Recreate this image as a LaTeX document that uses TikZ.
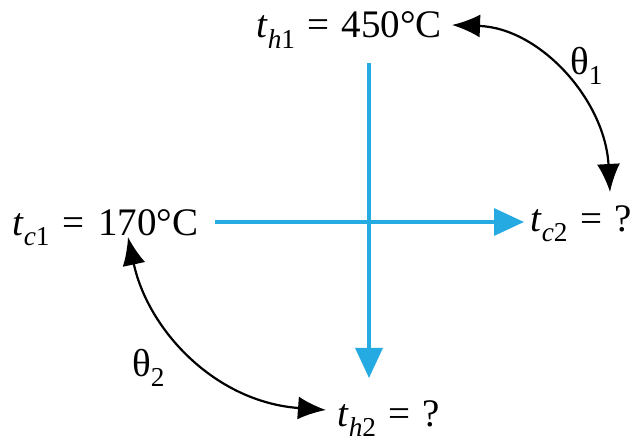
\documentclass[tikz,border=0pt]{standalone}
\usepackage{fontspec}
\setmainfont{Liberation Serif}
\usetikzlibrary{arrows.meta}
\definecolor{flowblue}{RGB}{38,170,226}
\newcommand{\eqsign}{\hspace{12pt}=\hspace{12pt}}
\begin{document}
\begin{tikzpicture}[x=1pt,y=-1pt,
  lbl/.style={inner sep=0pt,anchor=base west,font=\fontsize{39}{44}\selectfont},
  flow/.style={draw=flowblue,line width=3.4pt,-{Triangle[length=30pt,width=27pt]}},
  angarrow/.style={draw=black,line width=2.2pt,{Latex[length=28pt,width=23pt]}-{Latex[length=28pt,width=23pt]}}]
\useasboundingbox (0,0) rectangle (633,441);
\node[lbl] (th1) at (256,38) {\textit{t}\textsubscript{\textit{h}1}\eqsign 450°C};
\node[lbl] (tc1) at (12,236) {\textit{t}\textsubscript{\textit{c}1}\eqsign\hspace{2pt}170°C};
\node[lbl] (tc2) at (530,232) {\textit{t}\textsubscript{\textit{c}2}\eqsign ?};
\node[lbl] (th2) at (337,426) {\textit{t}\textsubscript{\textit{h}2}\eqsign ?};
\node[lbl] (q1) at (570,75) {θ\textsubscript{1}};
\node[lbl] (q2) at (132,377) {θ\textsubscript{2}};
\coordinate (vtop) at (369,63);
\coordinate (vend) at (369,378);
\coordinate (hleft) at (215,222);
\coordinate (hend) at (524,222);
\path[flow] (vtop) -- (vend);
\path[flow] (hleft) -- (hend);
\coordinate (a1) at (452,25);
\coordinate (b1) at (610,192);
\coordinate (a2) at (128,237);
\coordinate (b2) at (326,410);
\path[angarrow] (a1) .. controls (540,28) and (605,100) .. (b1);
\path[angarrow] (a2) .. controls (148,330) and (215,402) .. (b2);
\end{tikzpicture}
\end{document}
